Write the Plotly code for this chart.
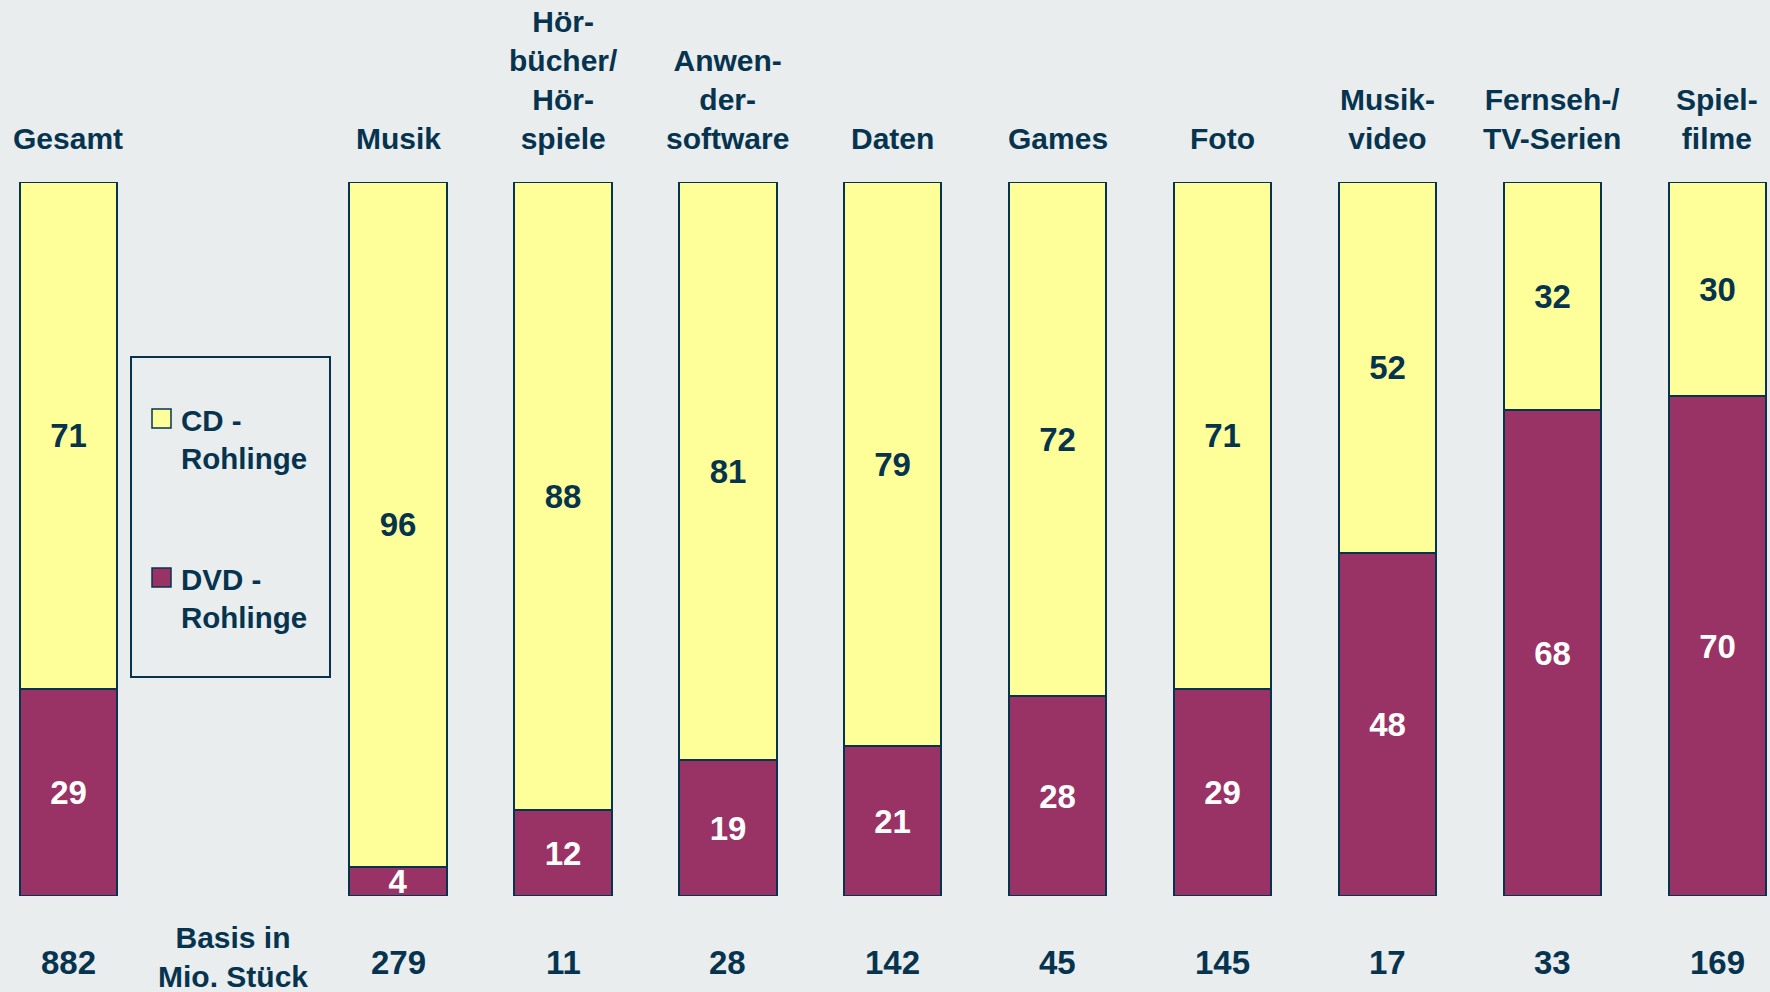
import plotly.graph_objects as go

# Kategorien und Werte (Anteile in %)
categories = ['Gesamt', 'Musik', 'Hör-<br>bücher/<br>Hör-<br>spiele',
              'Anwen-<br>der-<br>software', 'Daten', 'Games', 'Foto',
              'Musik-<br>video', 'Fernseh-/<br>TV-Serien', 'Spiel-<br>filme']
positions = [0, 2, 3, 4, 5, 6, 7, 8, 9, 10]
cd_share = [71, 96, 88, 81, 79, 72, 71, 52, 32, 30]
dvd_share = [29, 4, 12, 19, 21, 28, 29, 48, 68, 70]
basis = [882, 279, 11, 28, 142, 45, 145, 17, 33, 169]
basis_label = 'Basis in<br>Mio. Stück'
legend_names = ['CD -<br>Rohlinge', 'DVD -<br>Rohlinge']

BG = '#E9EDEE'
NAVY = '#06344F'
YELLOW = '#FFFF99'
PURPLE = '#993366'
FONT = 'Arial, Liberation Sans, sans-serif'

W, H = 1770, 992
M_L, M_R, M_T, M_B = 0, 0, 182, 96
X0, SLOT = 68.3, 164.9
x_range = [(0 - X0) / SLOT, (W - X0) / SLOT]
plot_h = H - M_T - M_B


def px_x(px):
    return (px - X0) / SLOT


def px_y(py):
    return (H - M_B - py) / plot_h * 100


fig = go.Figure()
fig.add_trace(go.Bar(
    x=positions, y=dvd_share, name='DVD - Rohlinge', width=0.59,
    marker=dict(color=PURPLE, line=dict(color=NAVY, width=2)),
    text=dvd_share, textposition='inside', insidetextanchor='middle',
    constraintext='none', textangle=0,
    textfont=dict(family=FONT, size=33, color='white', weight='bold'),
    showlegend=False))
fig.add_trace(go.Bar(
    x=positions, y=cd_share, name='CD - Rohlinge', width=0.59,
    marker=dict(color=YELLOW, line=dict(color=NAVY, width=2)),
    text=cd_share, textposition='inside', insidetextanchor='middle',
    constraintext='none', textangle=0,
    textfont=dict(family=FONT, size=33, color=NAVY, weight='bold'),
    showlegend=False))

annotations = []
for p, c, b in zip(positions, categories, basis):
    annotations.append(dict(
        x=p, y=100, xref='x', yref='y', text='<b>%s</b>' % c,
        showarrow=False, yanchor='bottom', yshift=25,
        font=dict(family=FONT, size=30, color=NAVY)))
    annotations.append(dict(
        x=p, y=0, xref='x', yref='y', text='<b>%d</b>' % b,
        showarrow=False, yanchor='middle', yshift=-66,
        font=dict(family=FONT, size=33, color=NAVY)))
annotations.append(dict(
    x=1, y=0, xref='x', yref='y', text='<b>%s</b>' % basis_label,
    showarrow=False, yanchor='middle', yshift=-61,
    font=dict(family=FONT, size=30, color=NAVY)))

# Legende als Kasten mit Farbfeldern
shapes = [dict(type='rect', xref='x', yref='y',
               x0=px_x(131), x1=px_x(330), y0=px_y(677), y1=px_y(357),
               line=dict(color=NAVY, width=2), fillcolor=BG, layer='below')]
for name, color, cy in zip(legend_names, [YELLOW, PURPLE], [439, 598]):
    top = cy - 30
    shapes.append(dict(type='rect', xref='x', yref='y',
                       x0=px_x(152), x1=px_x(171),
                       y0=px_y(top + 19), y1=px_y(top),
                       line=dict(color=NAVY, width=1.5), fillcolor=color))
    annotations.append(dict(
        x=px_x(179), y=px_y(cy), xref='x', yref='y',
        text='<b>%s</b>' % name, showarrow=False, xanchor='left',
        yanchor='middle', align='left',
        font=dict(family=FONT, size=29.5, color=NAVY)))

fig.update_layout(
    barmode='stack', bargap=0,
    width=W, height=H,
    margin=dict(l=M_L, r=M_R, t=M_T, b=M_B),
    paper_bgcolor=BG, plot_bgcolor=BG,
    xaxis=dict(range=x_range, showgrid=False, zeroline=False,
               showticklabels=False, showline=False, fixedrange=True),
    yaxis=dict(range=[0, 100], showgrid=False, zeroline=False,
               showticklabels=False, showline=False, fixedrange=True),
    annotations=annotations, shapes=shapes)

fig.write_html('out.html', config={'displayModeBar': False},
               post_script="document.body.style.margin='0';"
                           "document.body.style.overflow='hidden';")
